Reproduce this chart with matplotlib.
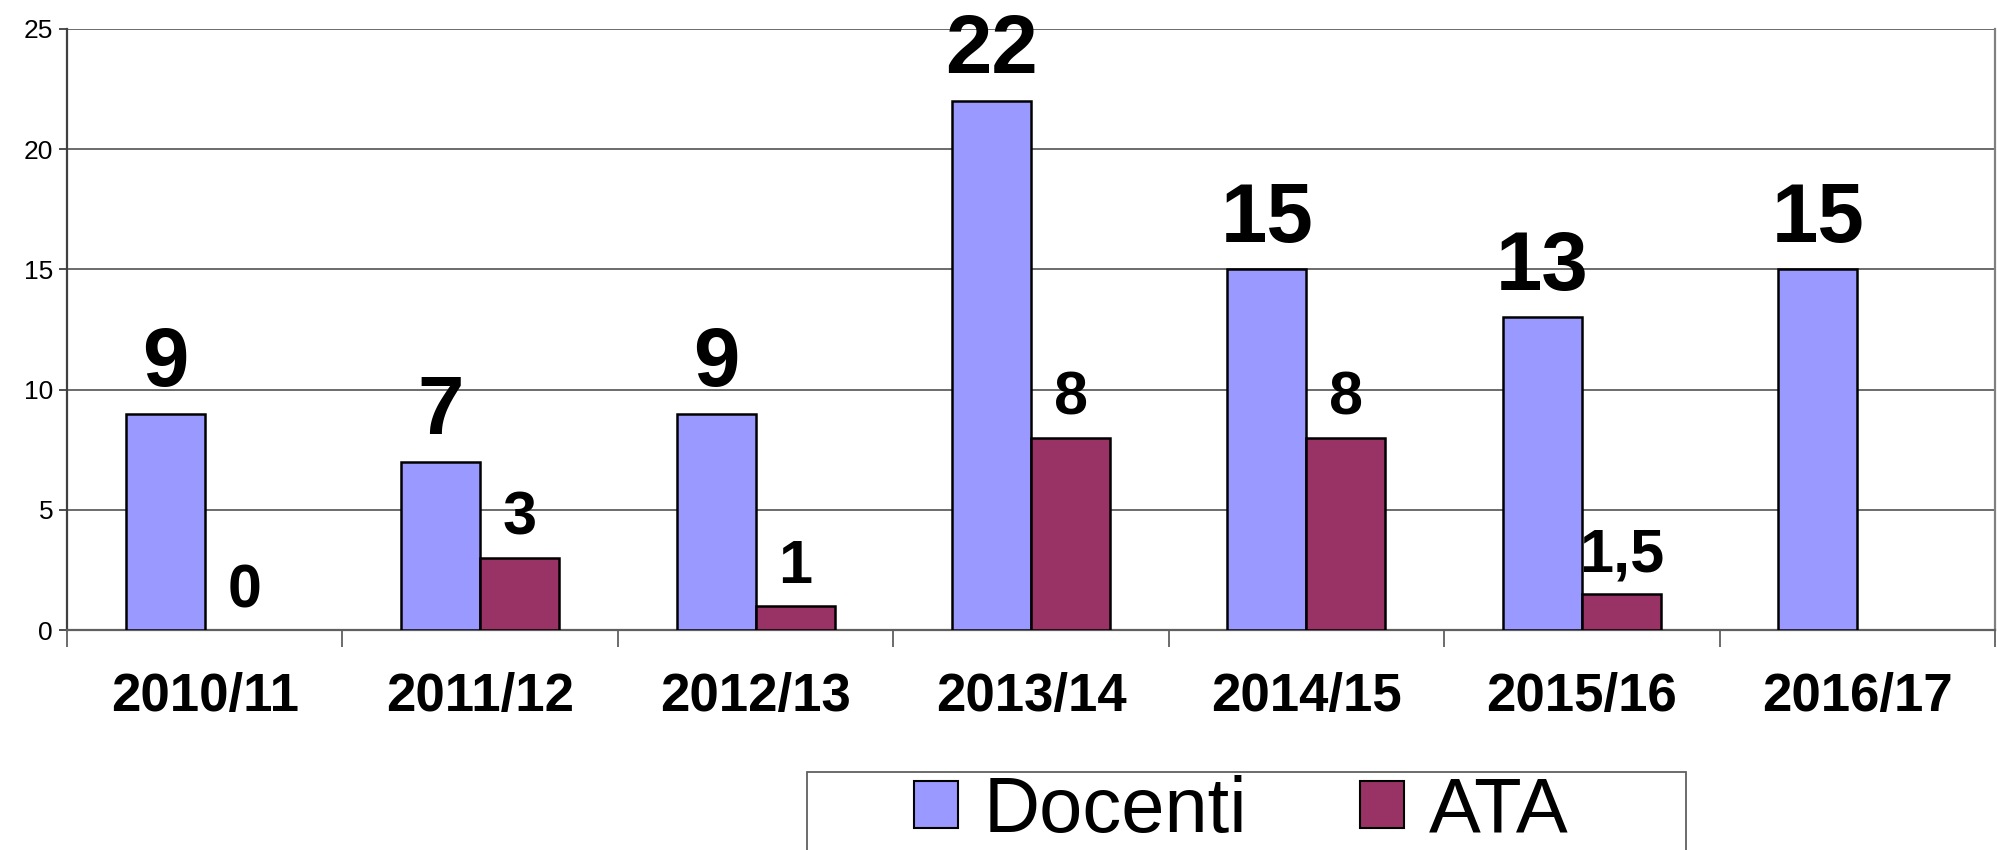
import matplotlib
matplotlib.use('Agg')
import matplotlib.pyplot as plt
import numpy as np
from matplotlib.patches import Patch, Rectangle

anni = ['2010/11', '2011/12', '2012/13', '2013/14', '2014/15', '2015/16', '2016/17']
docenti = [9, 7, 9, 22, 15, 13, 15]
ata = [0, 3, 1, 8, 8, 1.5, np.nan]
y_ticks = [0, 5, 10, 15, 20, 25]

col_doc = '#9999FF'
col_ata = '#993366'

plt.rcParams['font.family'] = ['Liberation Sans', 'DejaVu Sans']

fig = plt.figure(figsize=(19.97, 8.5), dpi=100)
ax = fig.add_axes([67/1997, 220/850, 1928/1997, 601/850])

x = np.arange(len(anni))
w = 0.287

lw_ata = [0 if v == 0 else 1.8 for v in ata]
ax.bar(x - w/2, docenti, w, color=col_doc, edgecolor='black', linewidth=1.8, zorder=3)
ax.bar(x + w/2, ata, w, color=col_ata, edgecolor='black', linewidth=lw_ata, zorder=3)

def etichetta(v):
    if v == int(v):
        return str(int(v))
    return str(v).replace('.', ',')

for i, v in enumerate(docenti):
    ax.annotate(etichetta(v), (x[i] - w/2, v), xytext=(0, 20), textcoords='offset points',
                ha='center', va='baseline', fontsize=60, fontweight='bold', zorder=4)
for i, v in enumerate(ata):
    if np.isnan(v):
        continue
    ax.annotate(etichetta(v), (x[i] + w/2, v), xytext=(0, 16.5), textcoords='offset points',
                ha='center', va='baseline', fontsize=44, fontweight='bold', zorder=4)

ax.set_ylim(0, 25)
ax.set_xlim(-0.5, len(anni) - 0.5)
ax.set_yticks(y_ticks)
ax.yaxis.grid(True, color='#606060', linewidth=1.3, zorder=0)
ax.tick_params(axis='y', labelsize=19, length=6, width=1.3, color='#404040', pad=4)

ax.set_xticks(np.arange(-0.5, len(anni), 1))
ax.set_xticklabels([])
ax.tick_params(axis='x', which='major', length=12, width=1.3, color='#606060')
ax.set_xticks(x, minor=True)
ax.set_xticklabels(anni, minor=True, fontsize=38, fontweight='bold')
ax.tick_params(axis='x', which='minor', length=0, pad=30)

ax.spines['top'].set_visible(False)
ax.spines['left'].set_color('#404040')
ax.spines['left'].set_linewidth(1.6)
ax.spines['right'].set_color('#808080')
ax.spines['right'].set_linewidth(1.6)
ax.spines['bottom'].set_color('#606060')
ax.spines['bottom'].set_linewidth(1.6)

# legenda senza cornice, la cornice la disegno a parte (esce dal bordo in basso)
handles = [Patch(facecolor=col_doc, edgecolor='black', linewidth=1.5, label='Docenti'),
           Patch(facecolor=col_ata, edgecolor='black', linewidth=1.5, label='ATA')]
leg = fig.legend(handles=handles, loc='upper left', bbox_to_anchor=(914/1997, 1 - 775/850),
                 ncol=2, frameon=False, fontsize=56,
                 handlelength=0.57, handleheight=0.57, handletextpad=0.32, columnspacing=1.45,
                 borderpad=0, borderaxespad=0)
cornice = Rectangle((807/1997, -0.1), (1686 - 807)/1997, 0.1 + (850 - 772)/850,
                    transform=fig.transFigure, fill=False, edgecolor='#606060', linewidth=1.3)
fig.patches.append(cornice)

fig.savefig('out.png', dpi=100)
